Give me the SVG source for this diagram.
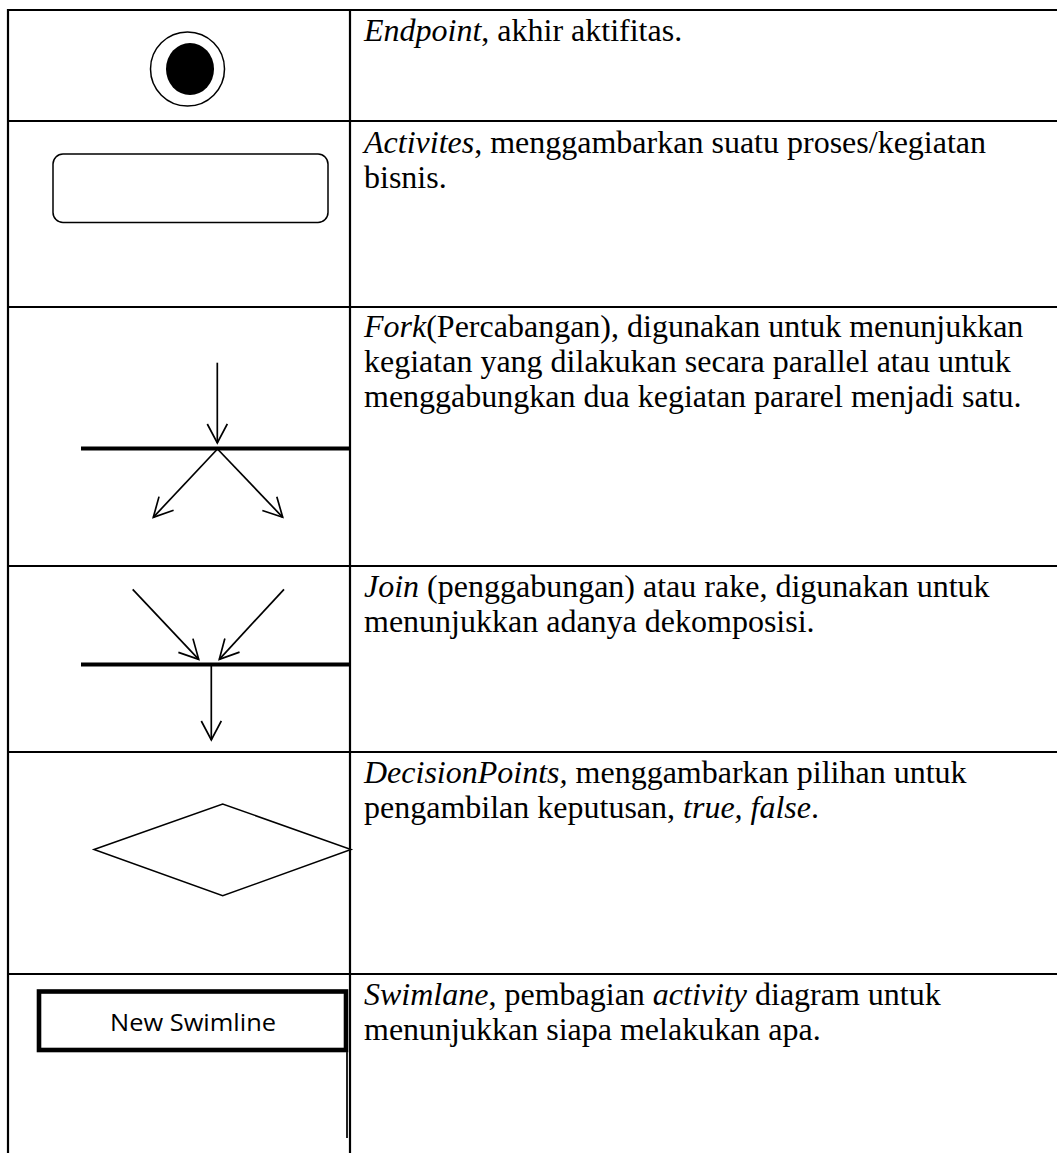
<svg xmlns="http://www.w3.org/2000/svg" width="1057" height="1153" viewBox="0 0 1057 1153">
<style>
.grid{stroke:#000;stroke-width:2.2;fill:none}
.shape{stroke:#000;stroke-width:1.5;fill:#fff}
.bar{stroke:#000;stroke-width:4;fill:none}
.conn{stroke:#000;stroke-width:1.7;fill:none}
.desc{font-family:"Liberation Serif","Times New Roman",serif;font-size:32px;fill:#000}
.it{font-style:italic}
.lane{font-family:"Open Sans","Noto Sans","Liberation Sans",sans-serif;font-size:24px;fill:#000}
</style>
<defs>
<marker id="open" viewBox="0 0 22 22" refX="20" refY="11" markerWidth="22" markerHeight="22" markerUnits="userSpaceOnUse" orient="auto">
<path d="M1,1 L20,11 L1,21" fill="none" stroke="#000" stroke-width="1.7"/>
</marker>
</defs>
<rect width="1057" height="1153" fill="#fff"/>
<g id="table">
<line class="grid" x1="8" y1="10" x2="1057" y2="10"/>
<line class="grid" x1="8" y1="121" x2="1057" y2="121"/>
<line class="grid" x1="8" y1="307" x2="1057" y2="307"/>
<line class="grid" x1="8" y1="566" x2="1057" y2="566"/>
<line class="grid" x1="8" y1="752" x2="1057" y2="752"/>
<line class="grid" x1="8" y1="974" x2="1057" y2="974"/>
<line class="grid" x1="8" y1="9" x2="8" y2="1153"/>
<line class="grid" x1="350" y1="9" x2="350" y2="1153"/>
</g>
<g id="endpoint">
<circle class="shape" cx="187.5" cy="69" r="37" stroke-width="1.4"/>
<ellipse cx="190" cy="69" rx="24" ry="26" fill="#000"/>
<text class="desc" x="364" y="41"><tspan class="it">Endpoint</tspan>, akhir aktifitas.</text>
</g>
<g id="activities">
<rect class="shape" x="53" y="154" width="275" height="68.5" rx="10" ry="10"/>
<text class="desc" x="364" y="153"><tspan class="it">Activites</tspan>, menggambarkan suatu proses/kegiatan</text>
<text class="desc" x="364" y="188">bisnis.</text>
</g>
<g id="fork">
<line class="bar" x1="81" y1="448.5" x2="350" y2="448.5"/>
<text class="desc" x="364" y="337"><tspan class="it">Fork</tspan>(Percabangan), digunakan untuk menunjukkan</text>
<text class="desc" x="364" y="372">kegiatan yang dilakukan secara parallel atau untuk</text>
<text class="desc" x="364" y="407">menggabungkan dua kegiatan pararel menjadi satu.</text>
</g>
<g id="join">
<line class="bar" x1="81" y1="664.5" x2="350" y2="664.5"/>
<text class="desc" x="364" y="597"><tspan class="it">Join</tspan> (penggabungan) atau rake, digunakan untuk</text>
<text class="desc" x="364" y="632">menunjukkan adanya dekomposisi.</text>
</g>
<g id="decision">
<polygon class="shape" points="94,849.5 222.7,804 351,849.5 222.7,895.7"/>
<text class="desc" x="364" y="783"><tspan class="it">DecisionPoints,</tspan> menggambarkan pilihan untuk</text>
<text class="desc" x="364" y="818">pengambilan keputusan, <tspan class="it">true, false</tspan>.</text>
</g>
<g id="swimlane">
<rect x="39" y="991.5" width="307" height="58.5" fill="#fff" stroke="#000" stroke-width="4.6"/>
<line x1="347" y1="1052" x2="347" y2="1138" stroke="#222" stroke-width="2"/>
<text class="lane" x="193" y="1031" text-anchor="middle" textLength="166" lengthAdjust="spacingAndGlyphs">New Swimline</text>
<text class="desc" x="364" y="1005"><tspan class="it">Swimlane</tspan>, pembagian <tspan class="it">activity</tspan> diagram untuk</text>
<text class="desc" x="364" y="1040">menunjukkan siapa melakukan apa.</text>
</g>
<g id="connectors">
<line class="conn" x1="217.3" y1="362.7" x2="217.3" y2="443" marker-end="url(#open)"/>
<line class="conn" x1="217.5" y1="449" x2="153.3" y2="517.3" marker-end="url(#open)"/>
<line class="conn" x1="217.5" y1="449" x2="282.7" y2="517.3" marker-end="url(#open)"/>
<line class="conn" x1="132.7" y1="589.3" x2="198.7" y2="659.3" marker-end="url(#open)"/>
<line class="conn" x1="284" y1="589.3" x2="219.3" y2="659.3" marker-end="url(#open)"/>
<line class="conn" x1="211.3" y1="666" x2="211.3" y2="740" marker-end="url(#open)"/>
</g>
</svg>
